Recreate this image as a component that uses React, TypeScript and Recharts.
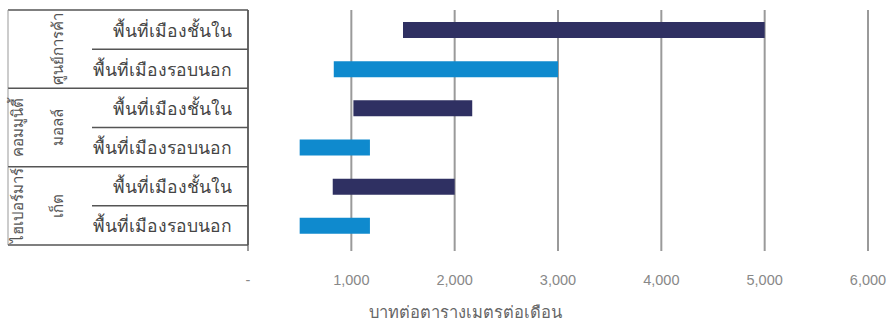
import { BarChart, Bar, XAxis, YAxis, CartesianGrid, Cell } from "recharts";

const groups = ["ศูนย์การค้า", "คอมมูนิตี้ มอลล์", "ไฮเปอร์มาร์ เก็ต"];
const subAreas = ["พื้นที่เมืองชั้นใน", "พื้นที่เมืองรอบนอก"];
const lowRents = [1500, 830, 1020, 500, 820, 500];
const highRents = [5000, 3000, 2170, 1180, 2000, 1180];
const xTicks = [0, 1000, 2000, 3000, 4000, 5000, 6000];
const xTitle = "บาทต่อตารางเมตรต่อเดือน";
const areaColors = ["#2f3062", "#0f8ace"];

const rows = groups.flatMap((g, gi) =>
  subAreas.map((s, si) => ({
    id: `${gi}-${si}`,
    group: g,
    area: s,
    gi,
    si,
    range: [lowRents[gi * 2 + si], highRents[gi * 2 + si]],
  }))
);

const W = 892;
const H = 324;
const TOP = 10;
const XH = 79;
const rowH = (H - TOP - XH) / rows.length;
const FONT = "'Noto Sans', 'DejaVu Sans', sans-serif";
const lineColor = "#555";

function TableTick(props: any) {
  const { y, payload } = props;
  const row = rows.find((r) => r.id === payload.value);
  if (!row) return null;
  const top = y - rowH / 2;
  const last = row.id === rows[rows.length - 1].id;
  const parts = row.group.split(" ");
  const gy = top + rowH;
  return (
    <g>
      <line
        x1={row.si === 0 ? 8 : 92}
        x2={248}
        y1={top}
        y2={top}
        stroke={lineColor}
        strokeWidth={1.5}
      />
      {last && (
        <line x1={8} x2={248} y1={top + rowH} y2={top + rowH} stroke={lineColor} strokeWidth={1.5} />
      )}
      {row.si === 0 && (
        <g>
          <line x1={8} x2={8} y1={top} y2={top + rowH * 2} stroke="#999" strokeWidth={1} />
          {parts.map((p, k) => {
            const cx = parts.length === 1 ? 57 : k === 0 ? 17 : 57;
            return (
              <text
                key={k}
                x={cx}
                y={gy}
                transform={`rotate(-90, ${cx}, ${gy})`}
                textAnchor="middle"
                dominantBaseline="central"
                fontSize={15}
                fontFamily={FONT}
                fill="#555"
              >
                {p}
              </text>
            );
          })}
        </g>
      )}
      <text
        x={232}
        y={y}
        textAnchor="end"
        dominantBaseline="central"
        fontSize={17.5}
        fontFamily={FONT}
        fill="#444"
      >
        {row.area}
      </text>
    </g>
  );
}

function XTick(props: any) {
  const { x, payload } = props;
  const v = payload.value as number;
  return (
    <text
      x={x}
      y={280}
      textAnchor="middle"
      dominantBaseline="central"
      fontSize={14.5}
      fontFamily="'Liberation Sans', Arial, sans-serif"
      fill="#888"
    >
      {v === 0 ? "-" : v.toLocaleString("en-US")}
    </text>
  );
}

export default function App() {
  return (
    <div style={{ position: "absolute", left: 0, top: 0, background: "#fff" }}>
      <BarChart
        width={W}
        height={H}
        data={rows}
        layout="vertical"
        margin={{ top: TOP, right: 24, bottom: 0, left: 0 }}
      >
        <CartesianGrid horizontal={false} stroke="#9a9a9a" strokeWidth={2} />
        <XAxis
          type="number"
          domain={[0, 6000]}
          ticks={xTicks}
          axisLine={false}
          tickLine={{ stroke: "#9a9a9a", strokeWidth: 2 }}
          tickSize={6}
          height={XH}
          tick={<XTick />}
          label={{
            value: xTitle,
            position: "insideBottom",
            offset: 6,
            dx: -93,
            fontSize: 16.5,
            fill: "#666",
            fontFamily: FONT,
          }}
        />
        <YAxis
          type="category"
          dataKey="id"
          width={248}
          interval={0}
          axisLine={{ stroke: lineColor, strokeWidth: 1.5 }}
          tickLine={false}
          tick={<TableTick />}
        />
        <Bar dataKey="range" barSize={16} isAnimationActive={false}>
          {rows.map((r) => (
            <Cell key={r.id} fill={areaColors[r.si]} />
          ))}
        </Bar>
      </BarChart>
    </div>
  );
}
